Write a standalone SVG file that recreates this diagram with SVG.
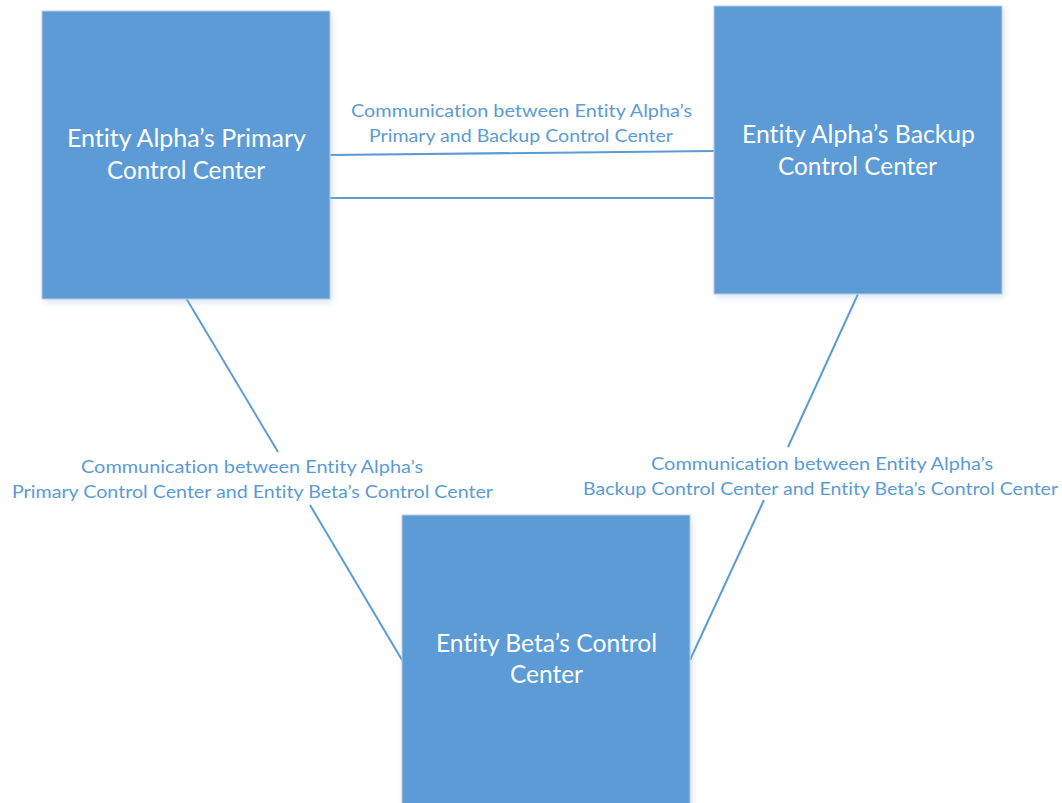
<svg xmlns="http://www.w3.org/2000/svg" width="1062" height="803" viewBox="0 0 1062 803">
<defs>
<style>
.box{fill:#5b9bd5;stroke:#b8cde6;stroke-width:1}
.bt{font-family:Lato,"Open Sans","Liberation Sans",sans-serif;font-size:25px;fill:#ffffff;font-variant-ligatures:none}
.lt{font-family:Lato,"Open Sans","Liberation Sans",sans-serif;font-size:18px;fill:#5b9bd5;font-variant-ligatures:none}
.ln{stroke:#5b9bd5;stroke-width:2;fill:none}
</style>
<filter id="sh" x="-10%" y="-10%" width="120%" height="120%">
<feDropShadow dx="2" dy="3" stdDeviation="3" flood-color="#9bb8dc" flood-opacity="0.35"/>
</filter>
</defs>
<rect width="1062" height="803" fill="#ffffff"/>
<g id="connectors">
<line class="ln" x1="330" y1="155" x2="714" y2="151"/>
<line class="ln" x1="330" y1="198" x2="714" y2="198"/>
<line class="ln" x1="186" y1="298" x2="278" y2="452"/>
<line class="ln" x1="310" y1="505" x2="402" y2="660"/>
<line class="ln" x1="858" y1="294" x2="788" y2="447"/>
<line class="ln" x1="764" y1="500" x2="690" y2="660"/>
</g>
<g id="labels">
<text class="lt" x="351" y="117" textLength="341" lengthAdjust="spacingAndGlyphs">Communication between Entity Alpha’s</text>
<text class="lt" x="369" y="142" textLength="304" lengthAdjust="spacingAndGlyphs">Primary and Backup Control Center</text>
<text class="lt" x="81" y="473" textLength="342" lengthAdjust="spacingAndGlyphs">Communication between Entity Alpha’s</text>
<text class="lt" x="12" y="498" textLength="481" lengthAdjust="spacingAndGlyphs">Primary Control Center and Entity Beta’s Control Center</text>
<text class="lt" x="651" y="470" textLength="342" lengthAdjust="spacingAndGlyphs">Communication between Entity Alpha’s</text>
<text class="lt" x="583" y="495" textLength="475" lengthAdjust="spacingAndGlyphs">Backup Control Center and Entity Beta’s Control Center</text>
</g>
<g id="node-alpha-primary">
<rect class="box" x="42" y="11" width="288" height="288" filter="url(#sh)"/>
<text class="bt" x="67" y="147" textLength="239" lengthAdjust="spacingAndGlyphs">Entity Alpha’s Primary</text>
<text class="bt" x="107" y="179" textLength="158" lengthAdjust="spacingAndGlyphs">Control Center</text>
</g>
<g id="node-alpha-backup">
<rect class="box" x="714" y="6" width="288" height="288" filter="url(#sh)"/>
<text class="bt" x="742" y="143" textLength="233" lengthAdjust="spacingAndGlyphs">Entity Alpha’s Backup</text>
<text class="bt" x="778" y="175" textLength="159" lengthAdjust="spacingAndGlyphs">Control Center</text>
</g>
<g id="node-beta">
<rect class="box" x="402" y="515" width="288" height="300" filter="url(#sh)"/>
<text class="bt" x="436" y="652" textLength="221" lengthAdjust="spacingAndGlyphs">Entity Beta’s Control</text>
<text class="bt" x="510" y="683" textLength="73" lengthAdjust="spacingAndGlyphs">Center</text>
</g>
</svg>
